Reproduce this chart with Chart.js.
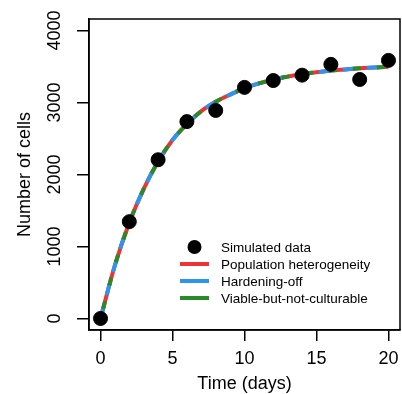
<!DOCTYPE html>
<html>
<head>
<meta charset="utf-8">
<script src="https://cdn.jsdelivr.net/npm/chart.js@4.4.0/dist/chart.umd.min.js"></script>
<style>
  html, body { margin: 0; padding: 0; background: #fff; }
  #wrap { width: 402px; height: 394px; }
</style>
</head>
<body>
<div id="wrap"><canvas id="growthChart" width="402" height="394"></canvas></div>
<script>
// Simulated data (points)
const simDays = [0, 2, 4, 6, 8, 10, 12, 14, 16, 18, 20];
const simCells = [0, 1345, 2205, 2735, 2890, 3210, 3305, 3380, 3530, 3320, 3585];

// Fitted model curves
const curveDays = [0, 1, 2, 3, 4, 5, 6, 7, 8, 9, 10, 11, 12, 13, 14, 15, 16, 17, 18, 19, 20];
const heterogeneity = [0, 740, 1330, 1800, 2180, 2480, 2700, 2880, 3010, 3110, 3200, 3265, 3320, 3360, 3395, 3420, 3445, 3460, 3475, 3485, 3495];
const hardeningOff = [0, 740, 1330, 1800, 2180, 2480, 2700, 2880, 3010, 3110, 3200, 3265, 3320, 3360, 3395, 3420, 3445, 3460, 3475, 3485, 3495];
const viableNotCulturable = [0, 740, 1330, 1800, 2180, 2480, 2700, 2880, 3010, 3110, 3200, 3265, 3320, 3360, 3395, 3420, 3445, 3460, 3475, 3485, 3495];

// Axis ticks
const xTicks = [0, 5, 10, 15, 20];
const yTicks = [0, 1000, 2000, 3000, 4000];

const FONT = 'Liberation Sans, Arial, Helvetica, sans-serif';
const BOX_RIGHT = 400;

function toPoints(xs, ys) {
    return xs.map((x, i) => ({ x: x, y: ys[i] }));
}

// Chart.js keeps a few px free on the right; stretch the plot box back out
const stretchPlugin = {
    id: 'stretch',
    afterLayout(chart) {
        const area = chart.chartArea;
        const xScale = chart.scales.x;
        if (area.right >= BOX_RIGHT) return;
        area.right = BOX_RIGHT;
        area.width = area.right - area.left;
        xScale.right = BOX_RIGHT;
        xScale.width = xScale.right - xScale.left;
        xScale.configure();
    }
};

// Draws the box, tick labels (y ones vertical like R) and the legend inside the plot
const rStylePlugin = {
    id: 'rStyle',
    afterDraw(chart) {
        const ctx = chart.ctx;
        const area = chart.chartArea;
        const xScale = chart.scales.x;
        const yScale = chart.scales.y;

        ctx.save();
        ctx.strokeStyle = '#000';
        ctx.lineWidth = 1.5;
        ctx.strokeRect(area.left, area.top, area.right - area.left, area.bottom - area.top);

        ctx.fillStyle = '#000';
        ctx.font = '18px ' + FONT;
        ctx.textAlign = 'center';
        ctx.textBaseline = 'middle';
        xTicks.forEach(v => {
            ctx.fillText(String(v), xScale.getPixelForValue(v), 359);
        });
        yTicks.forEach(v => {
            ctx.save();
            ctx.translate(55, yScale.getPixelForValue(v));
            ctx.rotate(-Math.PI / 2);
            ctx.fillText(String(v), 0, 0);
            ctx.restore();
        });

        // legend
        const legendX = 180, legendY = 247, rowH = 17;
        ctx.font = '13.5px ' + FONT;
        ctx.textAlign = 'left';
        chart.data.datasets.forEach((ds, i) => {
            const y = legendY + i * rowH;
            if (i === 0) {
                ctx.beginPath();
                ctx.arc(legendX + 14.5, y, 7, 0, Math.PI * 2);
                ctx.fillStyle = '#000';
                ctx.fill();
            } else {
                ctx.beginPath();
                ctx.moveTo(legendX, y);
                ctx.lineTo(legendX + 29, y);
                ctx.strokeStyle = ds.legendColor;
                ctx.lineWidth = 4;
                ctx.stroke();
            }
            ctx.fillStyle = '#000';
            ctx.fillText(ds.label, 221, y + 1);
        });
        ctx.restore();
    }
};

const ctx = document.getElementById('growthChart').getContext('2d');
new Chart(ctx, {
    type: 'scatter',
    data: {
        datasets: [
            {
                label: 'Simulated data',
                data: toPoints(simDays, simCells),
                backgroundColor: '#000',
                borderColor: '#000',
                pointRadius: 7,
                order: 0
            },
            {
                label: 'Population heterogeneity',
                type: 'line',
                data: toPoints(curveDays, heterogeneity),
                borderColor: '#ee3333',
                legendColor: '#ee3333',
                borderWidth: 4,
                pointRadius: 0,
                cubicInterpolationMode: 'monotone',
                order: 3
            },
            {
                label: 'Hardening-off',
                type: 'line',
                data: toPoints(curveDays, hardeningOff),
                borderColor: '#2b95f0',
                legendColor: '#2b95f0',
                borderWidth: 4,
                borderDash: [12, 12],
                borderDashOffset: 0,
                pointRadius: 0,
                cubicInterpolationMode: 'monotone',
                order: 2
            },
            {
                label: 'Viable-but-not-culturable',
                type: 'line',
                data: toPoints(curveDays, viableNotCulturable),
                borderColor: '#2a8a2a',
                legendColor: '#2a8a2a',
                borderWidth: 4,
                borderDash: [8, 16],
                borderDashOffset: 14,
                pointRadius: 0,
                cubicInterpolationMode: 'monotone',
                order: 1
            }
        ]
    },
    options: {
        responsive: false,
        animation: false,
        layout: { padding: { top: 19, right: 2, left: 0, bottom: 0 } },
        plugins: {
            legend: { display: false },
            tooltip: { enabled: false }
        },
        scales: {
            x: {
                type: 'linear',
                min: -0.8,
                max: 20.8,
                afterBuildTicks: scale => { scale.ticks = xTicks.map(v => ({ value: v })); },
                afterFit: scale => { scale.height = 64; },
                grid: { drawOnChartArea: false, drawTicks: true, tickLength: 11, color: '#000', lineWidth: 1.5 },
                border: { display: true, color: '#000', width: 1.5 },
                ticks: { display: false },
                title: {
                    display: true,
                    text: 'Time (days)',
                    color: '#000',
                    font: { family: FONT, size: 18 },
                    padding: { top: 0, bottom: -1 }
                }
            },
            y: {
                type: 'linear',
                min: -160,
                max: 4160,
                afterBuildTicks: scale => { scale.ticks = yTicks.map(v => ({ value: v })); },
                afterFit: scale => { scale.width = 89; },
                grid: { drawOnChartArea: false, drawTicks: true, tickLength: 12, color: '#000', lineWidth: 1.5 },
                border: { display: true, color: '#000', width: 1.5 },
                ticks: { display: false },
                title: {
                    display: true,
                    text: 'Number of cells',
                    color: '#000',
                    font: { family: FONT, size: 18 },
                    padding: { top: 14, bottom: 0 }
                }
            }
        }
    },
    plugins: [stretchPlugin, rStylePlugin]
});
</script>
</body>
</html>
